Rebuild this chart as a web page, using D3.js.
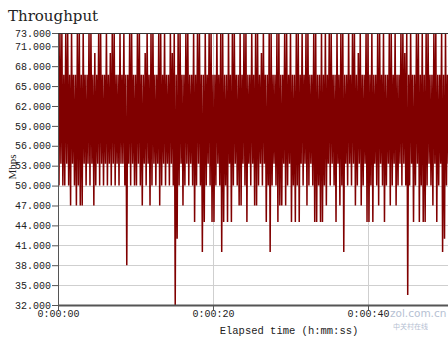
<!DOCTYPE html>
<html><head><meta charset="utf-8">
<script src="https://cdn.jsdelivr.net/npm/d3@7"></script>
<style>html,body{margin:0;padding:0;background:#fff;}svg{display:block;}</style>
</head><body>
<svg id="chart" width="448" height="337"></svg>
<script>
// ---- data ----
const chartTitle = "Throughput";
const yLabel = "Mbps";
const xLabel = "Elapsed time (h:mm:ss)";
const watermarkText = "zol.com.cn";
const watermarkSub = "中关村在线";
const sampleStep = 0.125; // seconds between samples
const yTicks = [32, 35, 38, 41, 44, 47, 50, 53, 56, 59, 62, 65, 68, 71, 73];
const xTicks = [0, 20, 40];
const xTickLabels = ["0:00:00", "0:00:20", "0:00:40"];
const throughput = [
60,50,73.3,53.3,73.3,50,66.7,50,73.3,53.3,73.3,50,66.7,47,73.3,53.3,66.7,50,66.7,47,
73.3,50,73.3,47,66.7,47,73.3,53.3,66.7,50,66.7,53.3,73.3,50,73.3,53.3,66.7,47,70,50,
66.7,53.3,73.3,50,73.3,53.3,66.7,50,66.7,53.3,73.3,50,66.7,53.3,70,50,73.3,53.3,73.3,50,
66.7,53.3,66.7,50,73.3,53.3,66.7,53.3,73.3,50,66.7,38,66.7,53.3,73.3,50,73.3,53.3,66.7,50,
66.7,50,73.3,53.3,73.3,50,66.7,47,66.7,53.3,70,50,73.3,53.3,66.7,47,73.3,50,73.3,53.3,
66.7,50,66.7,53.3,73.3,47,73.3,50,66.7,53.3,73.3,50,66.7,53.3,66.7,50,73.3,53.3,70,50,
73.3,32,66.7,42,73.3,50,73.3,53.3,66.7,47,66.7,50,73.3,53.3,73.3,50,66.7,53.3,66.7,50,
73.3,44.5,66.7,50,73.3,53.3,73.3,50,66.7,40,66.7,44.5,73.3,50,66.7,53.3,73.3,50,73.3,44.5,
66.7,44.5,66.7,50,73.3,53.3,66.7,50,73.3,40,73.3,44.5,66.7,50,66.7,44.5,73.3,53.3,66.7,44.5,
73.3,50,73.3,53.3,66.7,50,66.7,47,73.3,47,66.7,53.3,73.3,50,73.3,44.5,66.7,53.3,66.7,50,
73.3,53.3,66.7,47,73.3,47,73.3,50,66.7,53.3,70,50,73.3,53.3,66.7,44.5,66.7,50,73.3,40,
73.3,50,66.7,53.3,66.7,50,73.3,44.5,73.3,47,66.7,47,66.7,53.3,73.3,47,73.3,50,66.7,53.3,
73.3,44.5,66.7,50,66.7,44.5,73.3,50,73.3,44.5,66.7,53.3,73.3,50,66.7,53.3,73.3,47,73.3,50,
66.7,53.3,66.7,50,73.3,44.5,73.3,44.5,66.7,50,66.7,44.5,73.3,44.5,66.7,50,73.3,47,66.7,53.3,
73.3,50,73.3,53.3,66.7,50,66.7,44.5,73.3,53.3,66.7,47,73.3,50,73.3,40,66.7,53.3,66.7,50,
73.3,53.3,66.7,50,73.3,53.3,73.3,47,66.7,50,70,53.3,73.3,47,66.7,50,66.7,53.3,73.3,44.5,
73.3,44.5,66.7,50,73.3,44.5,66.7,53.3,66.7,50,73.3,47,73.3,53.3,66.7,50,73.3,44.5,66.7,50,
66.7,53.3,73.3,47,73.3,50,66.7,53.3,73.3,47,66.7,50,66.7,53.3,73.3,50,73.3,53.3,70,50,
73.3,33.5,66.7,50,73.3,53.3,66.7,44.5,66.7,50,73.3,53.3,73.3,44.5,66.7,50,73.3,44.5,66.7,44.5,
73.3,50,73.3,53.3,66.7,50,66.7,47,73.3,53.3,73.3,44.5,66.7,50,66.7,53.3,73.3,40,66.7,42,
73.3,50,66.7,53.3,73.3,50,73.3,53.3,66.7,50
];

// ---- layout ----
const plotL = 58, plotR = 448, plotT = 33, plotB = 305;
const svg = d3.select("#chart");
const x = d3.scaleLinear().domain([0, 20 * (plotR - plotL) / 155]).range([plotL, plotR]);
const y = d3.scaleLinear().domain([32, 73]).range([plotB, plotT]);
const mono = "'Liberation Mono','DejaVu Sans Mono',monospace";

// gridlines
svg.append("g").selectAll("line").data(yTicks).join("line")
  .attr("x1", plotL).attr("x2", plotR)
  .attr("y1", d => Math.round(y(d)) + 0.5).attr("y2", d => Math.round(y(d)) + 0.5)
  .attr("stroke", "#cfcfcf").attr("stroke-width", 1);
svg.append("g").selectAll("line").data(xTicks.slice(1)).join("line")
  .attr("x1", d => Math.round(x(d)) + 0.5).attr("x2", d => Math.round(x(d)) + 0.5)
  .attr("y1", plotT).attr("y2", plotB)
  .attr("stroke", "#cfcfcf").attr("stroke-width", 1);

// clip + series
svg.append("clipPath").attr("id", "plotclip").append("rect")
  .attr("x", plotL).attr("y", plotT).attr("width", plotR - plotL).attr("height", plotB - plotT);
const line = d3.line().x((d, i) => x(i * sampleStep)).y(d => y(d));
svg.append("path").datum(throughput)
  .attr("clip-path", "url(#plotclip)")
  .attr("d", line).attr("fill", "none")
  .attr("stroke", "#800000").attr("stroke-width", 1.5)
  .attr("stroke-linejoin", "miter").attr("stroke-miterlimit", 1);

// axes
const yAxis = d3.axisLeft(y).tickValues(yTicks).tickSize(6).tickSizeOuter(0)
  .tickFormat(d3.format(".3f"));
const gy = svg.append("g").attr("transform", `translate(${plotL},0)`).call(yAxis);
gy.select(".domain").attr("stroke", "#555");
gy.selectAll(".tick line").attr("stroke", "#555");
gy.selectAll(".tick text").attr("font-family", mono).attr("font-size", 10)
  .attr("fill", "#222").attr("x", -7);

const xAxis = d3.axisBottom(x).tickValues(xTicks).tickSize(5).tickSizeOuter(0)
  .tickFormat((d, i) => xTickLabels[i]);
const gx = svg.append("g").attr("transform", `translate(0,${plotB})`).call(xAxis);
gx.select(".domain").attr("stroke", "#555").attr("stroke-width", 2);
gx.selectAll(".tick line").attr("stroke", "#555");
gx.selectAll(".tick text").attr("font-family", mono).attr("font-size", 10)
  .attr("fill", "#222").attr("y", 5);

// top border
svg.append("line").attr("x1", plotL).attr("x2", plotR).attr("y1", plotT + 0.5).attr("y2", plotT + 0.5)
  .attr("stroke", "#333").attr("stroke-width", 1);

// texts
svg.append("text").attr("x", 8).attr("y", 21).text(chartTitle)
  .attr("font-family", "'DejaVu Serif','Liberation Serif',serif").attr("font-size", 15)
  .attr("fill", "#222");
svg.append("text").attr("transform", "translate(16,167) rotate(-90)")
  .attr("text-anchor", "middle").text(yLabel)
  .attr("font-family", "'Liberation Serif',serif").attr("font-size", 11).attr("fill", "#222");
svg.append("text").attr("x", 289).attr("y", 334).attr("text-anchor", "middle").text(xLabel)
  .attr("font-family", mono).attr("font-size", 10.5).attr("fill", "#222");

// watermark
svg.append("text").attr("x", 390).attr("y", 317).text(watermarkText)
  .attr("font-family", "'DejaVu Sans',sans-serif").attr("font-size", 10.5)
  .attr("fill", "#aab6cc").attr("opacity", 0.85);
svg.append("text").attr("x", 393).attr("y", 329).text(watermarkSub)
  .attr("font-family", "'Noto Sans CJK SC',sans-serif").attr("font-size", 7)
  .attr("fill", "#aab6cc").attr("opacity", 0.85);
</script>
</body></html>
